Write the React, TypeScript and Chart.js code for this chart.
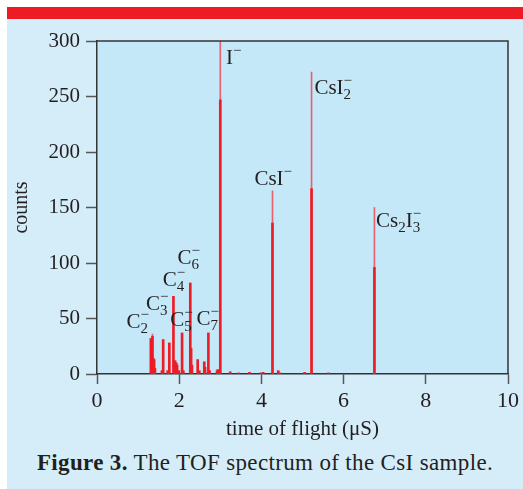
import React, { useEffect, useRef } from 'react';
import { Chart, registerables } from 'chart.js';

Chart.register(...registerables);

// Spectrum peaks (time of flight in µs, counts)
const peakTimes = [
  1.31, 1.35, 1.37, 1.39, 1.41, 1.58, 1.61, 1.72, 1.76, 1.86, 1.88, 1.9, 1.93, 1.95, 1.99,
  2.07, 2.1, 2.27, 2.29, 2.31, 2.45, 2.49, 2.61, 2.63, 2.71, 2.74, 2.92, 2.94, 3.0,
  3.24, 3.44, 3.71, 3.98, 4.04, 4.27, 4.41, 4.45, 5.05, 5.22, 5.63, 6.75,
];
const peakCounts = [
  32, 34, 14, 13, 5, 3, 31, 3, 28, 70, 11, 12, 10, 8, 3,
  37, 3, 82, 23, 8, 13, 3, 11, 6, 37, 3, 3, 4, 247,
  2, 1, 1.5, 1, 1.5, 136, 3, 1, 1.5, 167, 1, 96,
];
// thin upper parts of the strong peaks
const tipTimes = [1.35, 3.0, 4.27, 5.22, 6.75];
const tipCounts = [36, 300, 165, 272, 150];

const xTickValues = [0, 2, 4, 6, 8, 10];
const yTickValues = [0, 50, 100, 150, 200, 250, 300];

// Peak labels: "_" = subscript, "^-" = superscript minus
const labelTexts = ['I^-', 'CsI_2^-', 'CsI^-', 'Cs_2I_3^-', 'C_2^-', 'C_3^-', 'C_4^-', 'C_6^-', 'C_5^-', 'C_7^-'];
const labelX = [3.14, 5.29, 3.83, 6.79, 0.72, 1.19, 1.6, 1.96, 1.78, 2.42];
const labelY = [279, 252, 170, 132, 41, 58, 79, 99, 43, 44];

const FONT = "'Liberation Serif', 'Times New Roman', 'DejaVu Serif', serif";
const TEXT = '#231f20';

function drawFormula(ctx: CanvasRenderingContext2D, text: string, x: number, y: number) {
  const base = `21px ${FONT}`;
  const small = `15px ${FONT}`;
  let cx = x;
  let pendingSub = '';
  let pendingSup = '';
  const flush = () => {
    if (!pendingSub && !pendingSup) return;
    ctx.font = small;
    let w = 0;
    if (pendingSub) {
      ctx.fillText(pendingSub, cx, y + 5);
      w = Math.max(w, ctx.measureText(pendingSub).width);
    }
    if (pendingSup) {
      ctx.fillText(pendingSup, cx, y - 9);
      w = Math.max(w, ctx.measureText(pendingSup).width);
    }
    cx += w;
    pendingSub = '';
    pendingSup = '';
  };
  for (let i = 0; i < text.length; i++) {
    const ch = text[i];
    if (ch === '_') {
      pendingSub += text[++i];
    } else if (ch === '^') {
      const s = text[++i];
      pendingSup += s === '-' ? '\u2212' : s;
    } else {
      flush();
      ctx.font = base;
      ctx.fillText(ch, cx, y);
      cx += ctx.measureText(ch).width;
    }
  }
  flush();
}

const plotPlugin = {
  id: 'plotDecor',
  beforeDraw(chart: any) {
    const { ctx, chartArea } = chart;
    ctx.save();
    ctx.fillStyle = '#c5e8f8';
    ctx.fillRect(chartArea.left, chartArea.top, chartArea.right - chartArea.left, chartArea.bottom - chartArea.top);
    ctx.restore();
  },
  afterDraw(chart: any) {
    const { ctx, chartArea, scales } = chart;
    ctx.save();
    ctx.strokeStyle = '#333333';
    ctx.lineWidth = 1.5;
    ctx.beginPath();
    ctx.moveTo(chartArea.left, chartArea.top);
    ctx.lineTo(chartArea.right, chartArea.top);
    ctx.lineTo(chartArea.right, chartArea.bottom);
    ctx.stroke();
    ctx.fillStyle = TEXT;
    ctx.textBaseline = 'alphabetic';
    ctx.textAlign = 'left';
    labelTexts.forEach((t, i) => {
      drawFormula(ctx, t, scales.x.getPixelForValue(labelX[i]), scales.y.getPixelForValue(labelY[i]));
    });
    ctx.restore();
  },
};

export default function App() {
  const ref = useRef<HTMLCanvasElement | null>(null);

  useEffect(() => {
    if (!ref.current) return;
    const xTickFont = { family: FONT, size: 22 };
    const yTickFont = { family: FONT, size: 21 };
    const titleFont = { family: FONT, size: 21 };
    const chart = new Chart(ref.current, {
      type: 'bar',
      data: {
        datasets: [
          {
            data: tipTimes.map((t, i) => ({ x: t, y: tipCounts[i] })),
            backgroundColor: '#e9606e',
            borderWidth: 0,
            barThickness: 1,
            grouped: false,
            order: 2,
          } as any,
          {
            data: peakTimes.map((t, i) => ({ x: t, y: peakCounts[i] })),
            backgroundColor: '#ee1c25',
            borderWidth: 0,
            barThickness: 2,
            grouped: false,
            order: 1,
          } as any,
        ],
      },
      options: {
        animation: false,
        responsive: false,
        devicePixelRatio: 1,
        layout: { padding: { top: 22, right: 15, left: 0, bottom: 0 } },
        plugins: { legend: { display: false }, tooltip: { enabled: false } },
        scales: {
          x: {
            type: 'linear',
            min: 0,
            max: 10,
            offset: false,
            afterBuildTicks: (s: any) => {
              s.ticks = xTickValues.map((v) => ({ value: v }));
            },
            afterFit: (s: any) => {
              s.height = 75;
            },
            ticks: { font: xTickFont, color: TEXT, padding: 4, maxRotation: 0 },
            grid: { offset: false, drawOnChartArea: false, tickLength: 10, tickColor: '#555555', tickWidth: 1.5 },
            border: { display: true, color: '#333333', width: 1.5 },
            title: { display: true, text: 'time of flight (\u03bcS)', font: titleFont, color: TEXT, padding: { top: 0, bottom: 7 } },
          },
          y: {
            min: 0,
            max: 300,
            afterBuildTicks: (s: any) => {
              s.ticks = yTickValues.map((v) => ({ value: v }));
            },
            afterFit: (s: any) => {
              s.width = 90;
            },
            ticks: { font: yTickFont, color: TEXT, padding: 6 },
            grid: { drawOnChartArea: false, tickLength: 11, tickColor: '#555555', tickWidth: 1.5 },
            border: { display: true, color: '#333333', width: 1.5 },
            title: { display: true, text: 'counts', font: { family: FONT, size: 20 }, color: TEXT, padding: { top: 3, bottom: 0 } },
          },
        },
      },
      plugins: [plotPlugin],
    } as any);
    return () => chart.destroy();
  }, []);

  return (
    <div style={{ position: 'fixed', left: 0, top: 0, width: 523, height: 489, background: '#ffffff', overflow: 'hidden' }}>
      <div style={{ position: 'absolute', left: 7, top: 7, width: 516, height: 12, background: '#ed1c24' }} />
      <div style={{ position: 'absolute', left: 7, top: 19, width: 516, height: 470, background: '#d5edf9' }}>
        <canvas ref={ref} width={516} height={430} style={{ position: 'absolute', left: 0, top: 0, width: 516, height: 430 }} />
        <div
          style={{
            position: 'absolute',
            left: 0,
            top: 431,
            width: 516,
            textAlign: 'center',
            fontFamily: FONT,
            fontSize: 23,
            letterSpacing: '0.35px',
            color: TEXT,
            lineHeight: '26px',
            whiteSpace: 'nowrap',
          }}
        >
          <b>Figure 3.</b> The TOF spectrum of the CsI sample.
        </div>
      </div>
    </div>
  );
}
